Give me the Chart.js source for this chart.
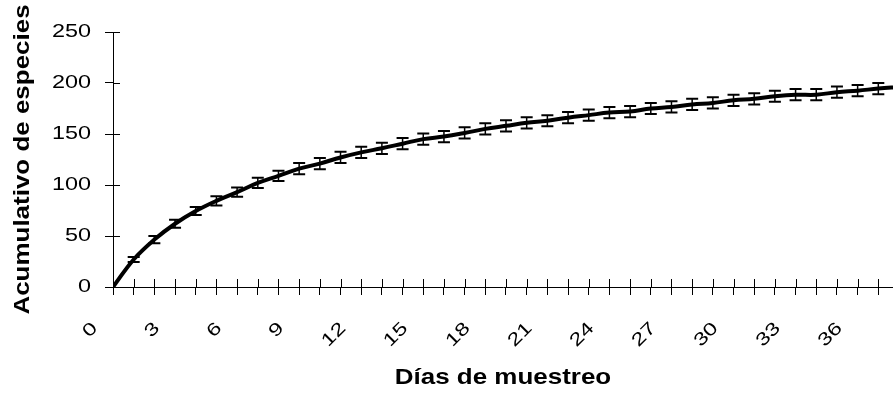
<!DOCTYPE html>
<html>
<head>
<meta charset="utf-8">
<script src="https://cdn.jsdelivr.net/npm/chart.js@4/dist/chart.umd.min.js"></script>
<style>
html,body{margin:0;padding:0;background:#fff;overflow:hidden;}
canvas{display:block;}
</style>
</head>
<body>
<canvas id="c" width="893" height="396"></canvas>
<script>
// ---- data ----
const days = [0,1,2,3,4,5,6,7,8,9,10,11,12,13,14,15,16,17,18,19,20,21,22,23,24,25,26,27,28,29,30,31,32,33,34,35,36,37,38];
const especies = [0,27,46.5,62,74.5,84.5,93,102,109,116,121,127,132,136,140.5,145,147.5,151,155,158,161,163,166,168.5,171,172,175,176.5,179,180.5,183,184.5,187,188.5,188.5,191,192.5,194.5,196];
const errores = [0,2.5,3.5,4,4,4.5,4.5,5,5,5.5,5.5,5.5,5.5,5.5,5.5,5.5,5.5,5.5,5.5,5.5,5.5,5.5,5.5,5.5,5.5,5.5,5.5,5.5,5.5,5.5,5.5,5.5,5.5,5.5,5.5,5.5,5.5,5.5,5.5];
const xTickLabels = [0,3,6,9,12,15,18,21,24,27,30,33,36];
const yTickLabels = [0,50,100,150,200,250];
const xTitle = 'Días de muestreo';
const yTitle = 'Acumulativo de especies';

// ---- wide-glyph text (reference font is horizontally stretched) ----
const canvas = document.getElementById('c');
const ctx = canvas.getContext('2d');
const SX_REG = 1.3, SX_BOLD = 1.18;
const origFill = ctx.fillText.bind(ctx);
const origMeasure = ctx.measureText.bind(ctx);
function sxFor(f){ return /bold|700/.test(f) ? SX_BOLD : SX_REG; }
ctx.fillText = function(t, x, y, mw){
  const s = sxFor(ctx.font);
  ctx.save(); ctx.translate(x, y); ctx.scale(s, 1);
  if (mw === undefined) origFill(t, 0, 0); else origFill(t, 0, 0, mw / s);
  ctx.restore();
};
ctx.measureText = function(t){
  const m = origMeasure(t); const s = sxFor(ctx.font);
  return {width: m.width * s, actualBoundingBoxAscent: m.actualBoundingBoxAscent, actualBoundingBoxDescent: m.actualBoundingBoxDescent,
          actualBoundingBoxLeft: m.actualBoundingBoxLeft * s, actualBoundingBoxRight: m.actualBoundingBoxRight * s};
};

const FAM = '"Liberation Sans", Arial, sans-serif';

const innerTicks = {
  id: 'innerTicks',
  afterDraw(chart){
    const c = chart.ctx, xs = chart.scales.x, ys = chart.scales.y, a = chart.chartArea;
    c.save(); c.strokeStyle = '#000'; c.lineWidth = 1; c.beginPath();
    ys.ticks.forEach(t => { const y = Math.round(ys.getPixelForValue(t.value)) + 0.5; c.moveTo(a.left, y); c.lineTo(a.left + 7, y); });
    xs.ticks.forEach(t => { const x = Math.round(xs.getPixelForValue(t.value)) + 0.5; c.moveTo(x, a.bottom); c.lineTo(x, a.bottom - 8); });
    c.stroke(); c.restore();
  }
};

const errorBars = {
  id: 'errorBars',
  afterDatasetsDraw(chart){
    const c = chart.ctx, xs = chart.scales.x, ys = chart.scales.y;
    c.save(); c.strokeStyle = '#000';
    days.forEach((d, i) => {
      const e = errores[i]; if (!e) return;
      const x = xs.getPixelForValue(d);
      const y1 = ys.getPixelForValue(especies[i] + e), y2 = ys.getPixelForValue(especies[i] - e);
      c.lineWidth = 1.5; c.beginPath(); c.moveTo(x, y1); c.lineTo(x, y2); c.stroke();
      c.lineWidth = 2; c.beginPath(); c.moveTo(x - 6, y1); c.lineTo(x + 6, y1); c.moveTo(x - 6, y2); c.lineTo(x + 6, y2); c.stroke();
    });
    c.restore();
  }
};

new Chart(ctx, {
  type: 'line',
  data: {
    datasets: [{
      data: days.map((d, i) => ({x: d, y: especies[i]})),
      borderColor: '#000', borderWidth: 4, tension: 0.4, pointRadius: 0, fill: false
    }]
  },
  options: {
    responsive: false, animation: false, devicePixelRatio: 1,
    layout: {padding: {top: 32, right: 0, bottom: 0, left: 0}},
    plugins: {legend: {display: false}, tooltip: {enabled: false}},
    scales: {
      x: {
        type: 'linear', min: 0, max: 37.71,
        afterFit(s){ s.height = 109; s.paddingRight = 0; s.paddingLeft = 0; },
        border: {display: true, color: '#000', width: 1},
        grid: {drawOnChartArea: false, drawTicks: true, tickLength: 8, color: '#000'},
        ticks: {
          stepSize: 1, autoSkip: false, includeBounds: false,
          minRotation: 45, maxRotation: 45, padding: 23, labelOffset: -18,
          color: '#000', font: {family: FAM, size: 18},
          callback: v => xTickLabels.includes(v) ? String(v) : ''
        },
        title: {display: true, text: xTitle, color: '#000', font: {family: FAM, size: 22, weight: 'bold'}, padding: {top: 0, bottom: 5}}
      },
      y: {
        min: 0, max: 250,
        afterFit(s){ s.width = 113; s.paddingTop = 0; s.paddingBottom = 0; },
        afterBuildTicks(s){ s.ticks = yTickLabels.map(v => ({value: v})); },
        border: {display: true, color: '#000', width: 1},
        grid: {drawOnChartArea: false, drawTicks: true, tickLength: 8, color: '#000'},
        ticks: {padding: 14, color: '#000', font: {family: FAM, size: 18}},
        title: {display: true, text: yTitle, color: '#000', font: {family: FAM, size: 22, weight: 'bold'}, padding: {top: 10, bottom: 0}}
      }
    }
  },
  plugins: [innerTicks, errorBars]
});
</script>
</body>
</html>
